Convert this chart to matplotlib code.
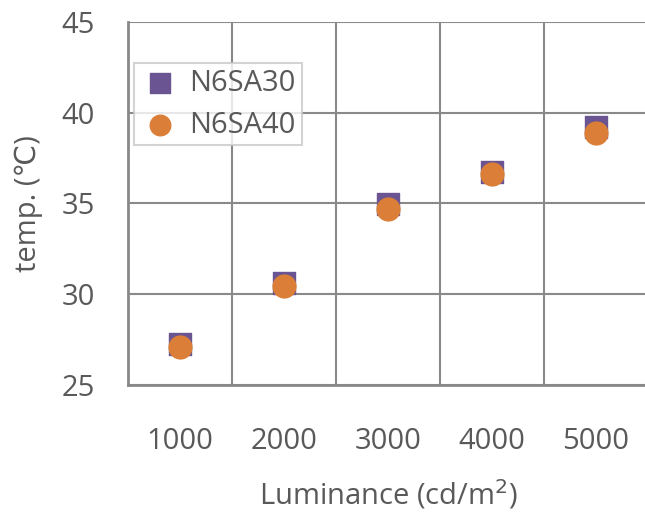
import matplotlib.pyplot as plt

lum = [1000, 2000, 3000, 4000, 5000]
n6sa30 = [27.25, 30.6, 34.95, 36.75, 39.2]
n6sa40 = [27.1, 30.45, 34.7, 36.65, 38.9]
xticks = [1000, 2000, 3000, 4000, 5000]
yticks = [25, 30, 35, 40, 45]

plt.rcParams['font.family'] = ['Open Sans', 'DejaVu Sans']
txt = '#595959'
grid = '#898989'

fig = plt.figure(figsize=(6.45, 5.2), dpi=100)
ax = fig.add_axes([128/645, 1 - 385/520, 520/645, 363/520])

ax.scatter(lum, n6sa30, marker='s', s=250, color='#6A5592', label='N6SA30', zorder=3)
ax.scatter(lum, n6sa40, marker='o', s=270, color='#DB7F38', label='N6SA40', zorder=4)

ax.set_xlim(500, 5500)
ax.set_ylim(25, 45)
ax.set_xticks(xticks)
ax.set_yticks(yticks)
ax.set_xticks([1500, 2500, 3500, 4500], minor=True)
ax.grid(False)
ax.xaxis.grid(True, which='minor', color=grid, lw=1.5)
ax.yaxis.grid(True, which='major', color=grid, lw=1.5)
ax.set_axisbelow(True)
ax.tick_params(which='both', length=0)
ax.tick_params(axis='x', pad=30, labelsize=21, colors=txt)
ax.tick_params(axis='y', pad=24, labelsize=21, colors=txt)
for s in ['top', 'right']:
    ax.spines[s].set_visible(False)
for s in ['left', 'bottom']:
    ax.spines[s].set_color(grid)
    ax.spines[s].set_linewidth(2)

ax.set_ylabel('temp. (\u2103)', fontsize=21, color=txt, labelpad=13)
ax.set_xlabel('Luminance (cd/m$^2$)', fontsize=21, color=txt, labelpad=16)

leg = ax.legend(loc='upper left', bbox_to_anchor=(-0.005, 0.912), fontsize=21,
                frameon=True, fancybox=False, handletextpad=0.3, borderpad=0.2,
                labelspacing=0.45, markerscale=0.9, labelcolor=txt,
                handlelength=1.4, borderaxespad=0.3)
leg.get_frame().set_edgecolor('#C8C8C8')
leg.get_frame().set_linewidth(1.5)

fig.savefig('out.png', dpi=100)
